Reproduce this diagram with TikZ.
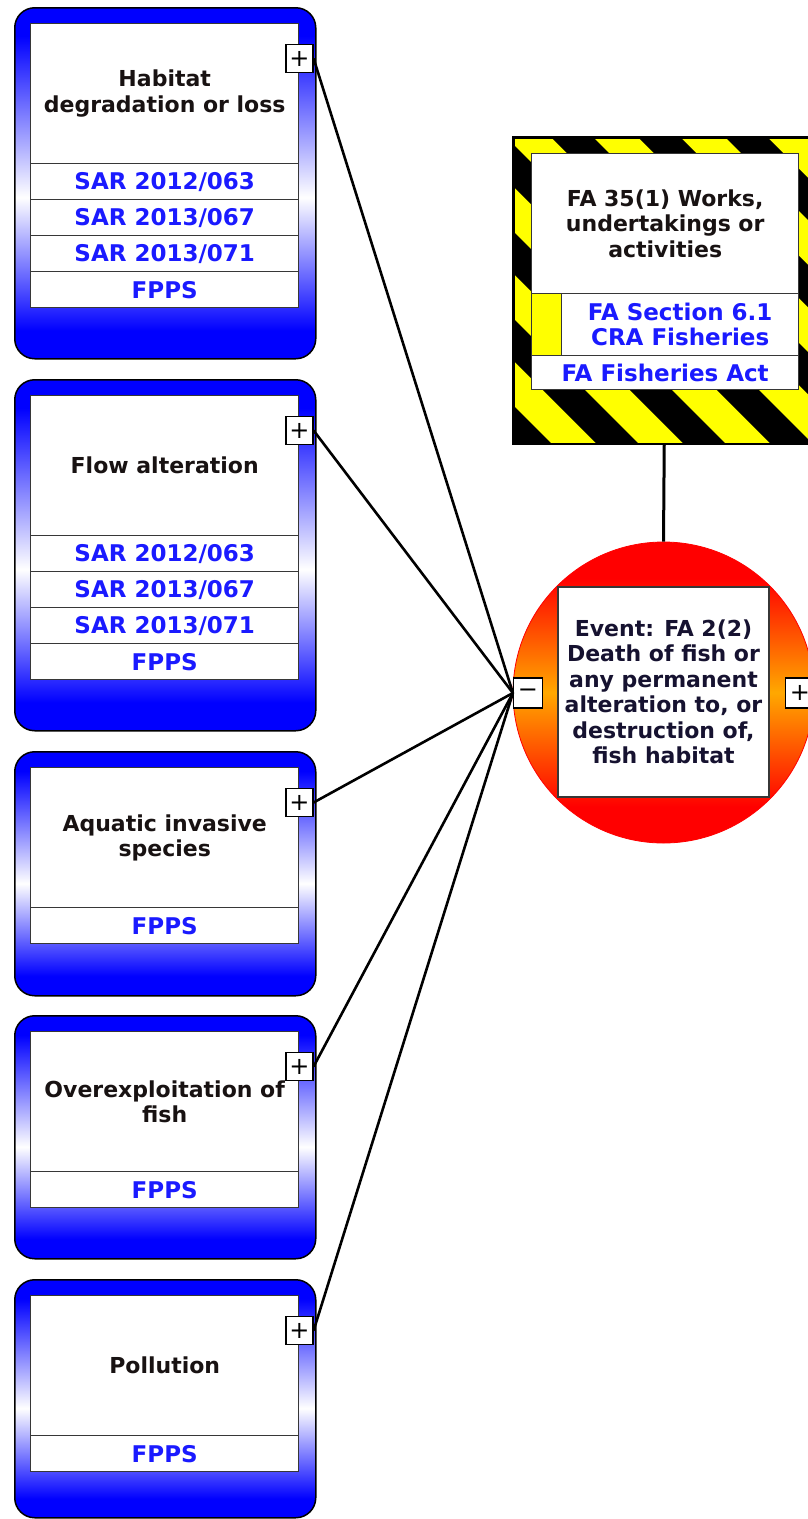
\documentclass[tikz,border=0pt]{standalone}
\usepackage{fontspec}
\setmainfont{DejaVu Sans}

\definecolor{linkblue}{RGB}{26,26,255}
\definecolor{titleink}{RGB}{24,18,18}
\definecolor{eventink}{RGB}{22,18,48}
\definecolor{cellline}{RGB}{55,55,55}
\definecolor{hazyellow}{RGB}{255,255,0}
\definecolor{evorange}{RGB}{255,168,0}
\definecolor{evred}{RGB}{255,0,0}
\definecolor{boxblue}{RGB}{0,0,255}

% blue - white - blue fill of the threat frames, red - orange - red fill of the event
\pgfdeclareverticalshading{threatfill}{100bp}{color(0bp)=(boxblue); color(29bp)=(boxblue); color(48bp)=(white); color(71bp)=(boxblue); color(100bp)=(boxblue)}
\pgfdeclareverticalshading{eventfill}{100bp}{color(0bp)=(evred); color(31bp)=(evred); color(50bp)=(evorange); color(69bp)=(evred); color(100bp)=(evred)}

\tikzset{
  threatframe/.style={rectangle, rounded corners=20pt, draw=black, line width=1.5pt,
    shade, shading=threatfill, minimum width=301pt, inner sep=0pt},
  titlecell/.style={rectangle, draw=cellline, line width=1.4pt, fill=white,
    minimum width=268pt, minimum height=140pt, inner sep=0pt, align=center,
    text=titleink, font=\fontsize{22}{25.5}\selectfont\bfseries},
  linkcell/.style={rectangle, draw=cellline, line width=1.4pt, fill=white,
    minimum width=268pt, minimum height=36pt, inner sep=0pt, align=center,
    text=linkblue, font=\fontsize{23}{25}\selectfont\bfseries},
  flagcell/.style={rectangle, draw=cellline, line width=1.4pt, fill=hazyellow,
    minimum width=30pt, minimum height=62pt, inner sep=0pt},
  toggle/.style={rectangle, draw=black, line width=1.2pt, fill=white,
    minimum width=27pt, minimum height=28pt, inner sep=0pt,
    font=\fontsize{24}{24}\selectfont},
  hazardframe/.style={rectangle, draw=black, line width=1.5pt, fill=hazyellow,
    minimum width=301pt, minimum height=306pt, inner sep=0pt},
  eventdisc/.style={circle, draw=evred, line width=0.8pt, shade, shading=eventfill,
    minimum size=301pt, inner sep=0pt},
  eventcell/.style={rectangle, draw=cellline, line width=1.4pt, fill=white,
    minimum width=211pt, minimum height=210pt, inner sep=0pt, align=center,
    text=eventink, font=\fontsize{22}{25.5}\selectfont\bfseries},
  connector/.style={draw=black, line width=2.6pt},
}

% one threat: name, top edge, bottom edge, title, list of reference rows
\newcommand{\threatgroup}[5]{%
  \node[threatframe, minimum height={#3-#2}, anchor=north west] (#1) at (14,#2) {};
  \node[titlecell, anchor=north west] (#1title) at (30,{#2+16}) {#4};
  \foreach \r [count=\i from 0] in {#5} {
    \node[linkcell, anchor=north west] (#1row\i) at (30,{#2+156+36*\i}) {\r};
  }
  \node[toggle] (#1plus) at (299.5,{#2+51.5}) {+};
}

\begin{document}
\begin{tikzpicture}[x=1pt, y=-1pt]
  \fill[white] (0,0) rectangle (808,1519);
  \useasboundingbox (0,0) rectangle (808,1519);
  \clip (0,0) rectangle (808,1519);

  % threats
  \threatgroup{habitat}{7}{358}{Habitat\\degradation or loss}{SAR 2012/063,SAR 2013/067,SAR 2013/071,FPPS}
  \threatgroup{flow}{379}{730}{Flow alteration}{SAR 2012/063,SAR 2013/067,SAR 2013/071,FPPS}
  \threatgroup{invasive}{751}{995}{Aquatic invasive\\species}{FPPS}
  \threatgroup{overfish}{1015}{1258}{Overexploitation of\\fish}{FPPS}
  \threatgroup{pollution}{1279}{1517}{Pollution}{FPPS}

  % hazard with striped frame
  \node[hazardframe, anchor=north west] (hazard) at (513,137) {};
  \begin{scope}
    \clip (hazard.north west) rectangle (hazard.south east);
    \foreach \k in {-10,...,0} {
      \fill[black] (400,{379+87*\k}) -- (950,{929+87*\k})
        -- (950,{971+87*\k}) -- (400,{421+87*\k}) -- cycle;
    }
  \end{scope}
  \draw[black, line width=1.5pt] (hazard.north west) rectangle (hazard.south east);
  \node[titlecell, minimum width=267pt, anchor=north west] (hztitle) at (531,153)
    {FA 35(1) Works,\\undertakings or\\activities};
  \node[flagcell, anchor=north west] (hzflag) at (531,293) {};
  \node[linkcell, minimum width=237pt, minimum height=62pt, anchor=north west] (hzsection) at (561,293)
    {FA Section 6.1\\CRA Fisheries};
  \node[linkcell, minimum width=267pt, minimum height=34pt, anchor=north west] (hzact) at (531,355)
    {FA Fisheries Act};

  % top event
  \node[eventdisc] (event) at (663.5,692.5) {};
  \node[eventcell] (eventtext) at (663.5,692) {Event: FA 2(2)\\Death of fish or\\any permanent\\alteration to, or\\destruction of,\\fish habitat};
  \node[toggle, minimum height=30pt, minimum width=29pt] (eventminus) at (528,693) {\char"2212};
  \node[toggle, minimum height=30pt, minimum width=29pt] (eventplus) at (800,693) {+};

  % connectors
  \draw[connector, line width=3pt] (hazard.south) -- (event.north);
  \foreach \t in {habitat,flow,invasive,overfish,pollution} {
    \draw[connector] (\t plus.east) -- (eventminus.west);
  }
\end{tikzpicture}
\end{document}
